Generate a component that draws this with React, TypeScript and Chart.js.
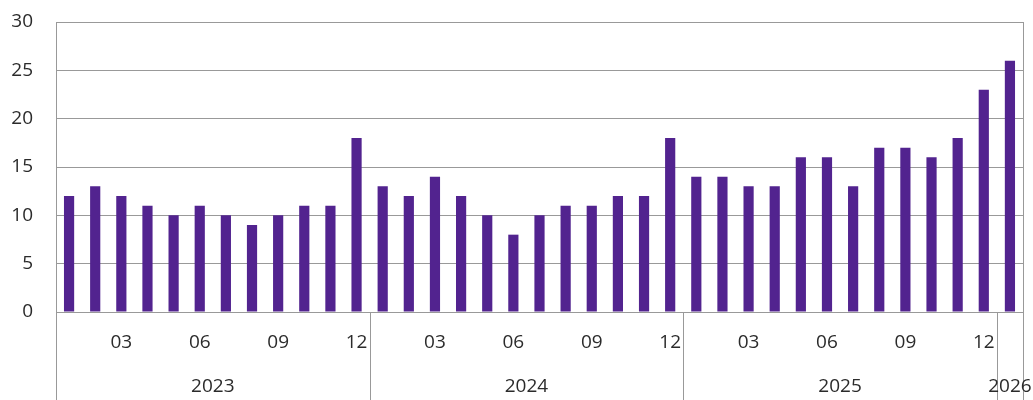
import React, { useEffect, useRef } from "react";
import { Chart, registerables } from "chart.js";

Chart.register(...registerables);

const years = ["2023", "2024", "2025", "2026"];
const monthsPerYear = [12, 12, 12, 1];
const monthLabels = [
  "01","02","03","04","05","06","07","08","09","10","11","12",
  "01","02","03","04","05","06","07","08","09","10","11","12",
  "01","02","03","04","05","06","07","08","09","10","11","12",
  "01",
];
const values = [
  12, 13, 12, 11, 10, 11, 10, 9, 10, 11, 11, 18,
  13, 12, 14, 12, 10, 8, 10, 11, 11, 12, 12, 18,
  14, 14, 13, 13, 16, 16, 13, 17, 17, 16, 18, 23,
  26,
];
const shownMonths = ["03", "06", "09", "12"];

const BAR = "#52238f";
const GRID = "#999999";
const TEXT = "#2b2b2b";
const FONT = "'Open Sans', 'Noto Sans', sans-serif";
const FS = 19;

export default function App() {
  const ref = useRef<HTMLCanvasElement | null>(null);

  useEffect(() => {
    document.body.style.margin = "0";
    const canvas = ref.current;
    if (!canvas) return;

    const yearPlugin = {
      id: "yearPlugin",
      afterDraw(chart: any) {
        const ctx = chart.ctx;
        const x = chart.scales.x;
        const area = chart.chartArea;
        const H = chart.height;
        const step = x.getPixelForValue(1) - x.getPixelForValue(0);
        ctx.save();
        ctx.strokeStyle = GRID;
        ctx.lineWidth = 1;
        const lx = Math.round(area.left) + 0.5;
        const rx = Math.round(area.right) + 0.5;
        ctx.beginPath();
        ctx.moveTo(lx, area.bottom);
        ctx.lineTo(lx, H);
        ctx.moveTo(rx, area.top);
        ctx.lineTo(rx, H);
        ctx.stroke();
        let idx = 0;
        ctx.fillStyle = TEXT;
        ctx.font = `${FS}px ${FONT}`;
        ctx.textAlign = "center";
        ctx.textBaseline = "middle";
        years.forEach((yr, i) => {
          const n = monthsPerYear[i];
          const start = x.getPixelForValue(idx) - step / 2;
          const end = x.getPixelForValue(idx + n - 1) + step / 2;
          if (i > 0) {
            const sx = Math.round(start) + 0.5;
            ctx.beginPath();
            ctx.moveTo(sx, area.bottom);
            ctx.lineTo(sx, H);
            ctx.stroke();
          }
          ctx.fillText(yr, (start + end) / 2, 387);
          idx += n;
        });
        ctx.restore();
      },
    };

    const chart = new Chart(canvas, {
      type: "bar",
      data: {
        labels: monthLabels,
        datasets: [
          {
            data: values,
            backgroundColor: BAR,
            categoryPercentage: 1,
            barPercentage: 0.39,
          },
        ],
      },
      options: {
        animation: false,
        responsive: false,
        maintainAspectRatio: false,
        layout: { padding: { top: 22, right: 10, left: 0, bottom: 0 } },
        plugins: { legend: { display: false }, tooltip: { enabled: false } },
        scales: {
          x: {
            grid: { display: false },
            border: { display: false },
            ticks: {
              autoSkip: false,
              maxRotation: 0,
              minRotation: 0,
              color: TEXT,
              font: { size: FS, family: FONT },
              padding: 11,
              callback: (_v: any, i: number) =>
                shownMonths.includes(monthLabels[i]) ? monthLabels[i] : "",
            },
            afterFit: (s: any) => {
              s.height = 88;
              s.paddingLeft = 0;
              s.paddingRight = 0;
            },
          },
          y: {
            min: 0,
            max: 30,
            ticks: {
              stepSize: 5,
              color: TEXT,
              font: { size: FS, family: FONT },
              padding: 23,
            },
            grid: { color: GRID, drawTicks: false },
            border: { display: true, color: GRID },
            afterFit: (s: any) => {
              s.width = 56;
              s.paddingTop = 0;
              s.paddingBottom = 0;
            },
          },
        },
      },
      plugins: [yearPlugin],
    } as any);

    return () => chart.destroy();
  }, []);

  return (
    <div style={{ width: 1033, height: 400, position: "relative" }}>
      <canvas ref={ref} width={1033} height={400} style={{ display: "block" }} />
    </div>
  );
}
